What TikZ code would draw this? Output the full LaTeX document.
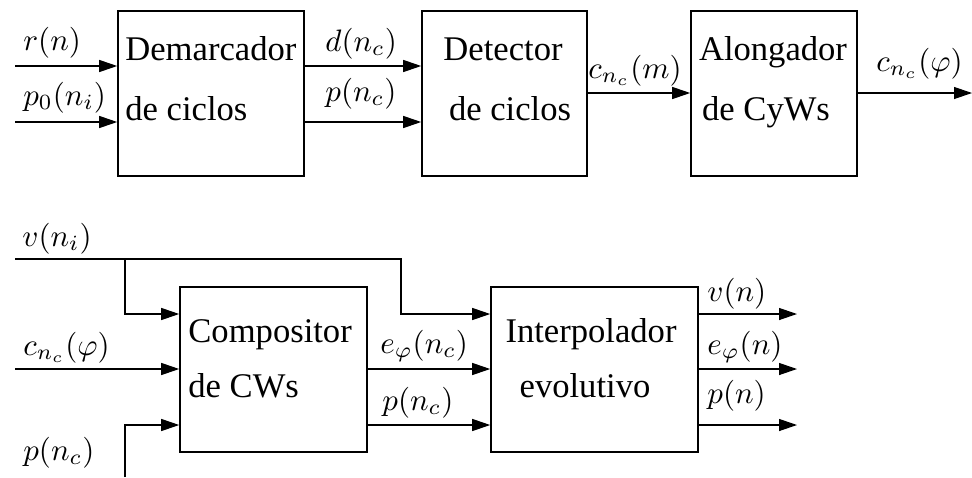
\documentclass[tikz,border=0pt]{standalone}
\usepackage[no-math]{fontspec}
\setmainfont{Liberation Serif}
\usetikzlibrary{arrows.meta,calc}
% signal labels: 10pt math enlarged as a whole
\newcommand{\sig}[1]{\scalebox{1.55}{$#1$}}

\begin{document}
\begin{tikzpicture}[x=0.5pt,y=-0.5pt,
  blk/.style={draw, line width=0.8pt, minimum height=82.5pt, inner sep=0pt},
  btxt/.style={font=\fontsize{17.3}{20}\selectfont, inner sep=0pt, anchor=base west},
  ctxt/.style={font=\fontsize{17.3}{20}\selectfont, inner sep=0pt, anchor=base},
  mlab/.style={inner sep=0pt, anchor=base west},
  wire/.style={line width=0.6pt},
  arr/.style={line width=0.6pt, -{Triangle[length=9pt,width=6pt]}}]

\useasboundingbox (0,0) rectangle (972,477);

% ---------- upper chain ----------
\node[blk, minimum width=93pt]   (dem)  at (211,93.5) {};
\node[blk, minimum width=82.5pt] (det)  at (504.5,93.5) {};
\node[blk, minimum width=83pt]   (alo)  at (774,93.5) {};

\node[btxt] (demA) at (125,60)  {Demarcador};
\node[btxt] (demB) at (125,120) {de ciclos};
\node[ctxt] (detA) at (503,60)  {Detector};
\node[ctxt] (detB) at (510,120) {de ciclos};
\node[ctxt] (aloA) at (773,60)  {Alongador};
\node[ctxt] (aloB) at (766,120) {de CyWs};

\coordinate (a1) at (15,66);
\coordinate (a2) at (15,122);
\coordinate (m1) at (0,93);
\coordinate (outA) at (972,93);

\draw[arr] (a1) -- (a1 -| dem.west);
\draw[arr] (a2) -- (a2 -| dem.west);
\draw[arr] (dem.east |- a1) -- (det.west |- a1);
\draw[arr] (dem.east |- a2) -- (det.west |- a2);
\draw[arr] (det.east |- m1) -- (alo.west |- m1);
\draw[arr] (alo.east |- m1) -- (outA);

\node[mlab] (lr)  at (23,50)   {\sig{r(n)}};
\node[mlab] (lp0) at (23,105)  {\sig{p_0(n_i)}};
\node[mlab] (ld)  at (325,51)  {\sig{d(n_c)}};
\node[mlab] (lp)  at (325,101) {\sig{p(n_c)}};
\node[mlab] (lc)  at (588,78)  {\sig{c_{n_c}(m)}};
\node[mlab] (lcf) at (876,71)  {\sig{c_{n_c}(\varphi)}};

% ---------- lower chain ----------
\node[blk, minimum width=93.5pt]  (comp)   at (273.5,369.5) {};
\node[blk, minimum width=103.5pt] (interp) at (594.5,369.5) {};

\node[btxt] (compA) at (188,342) {Compositor};
\node[btxt] (compB) at (188,397) {de CWs};
\node[ctxt] (intA)  at (591,342) {Interpolador};
\node[ctxt] (intB)  at (585,397) {evolutivo};

\coordinate (vin) at (15,259);
\coordinate (vb1) at (125,259);
\coordinate (vb2) at (401,259);
\coordinate (r1) at (0,314);
\coordinate (r2) at (0,369);
\coordinate (r3) at (0,425);
\coordinate (cin) at (15,369);
\coordinate (pin) at (125,477);
\coordinate (o1) at (797,314);
\coordinate (o2) at (797,369);
\coordinate (o3) at (797,425);

\draw[arr] (vin) -- (vb2) |- (interp.west |- r1);
\draw[arr] (vb1) |- (comp.west |- r1);
\draw[arr] (cin) -- (cin -| comp.west);
\draw[arr] (pin) |- (comp.west |- r3);
\draw[arr] (comp.east |- r2) -- (interp.west |- r2);
\draw[arr] (comp.east |- r3) -- (interp.west |- r3);
\draw[arr] (interp.east |- o1) -- (o1);
\draw[arr] (interp.east |- o2) -- (o2);
\draw[arr] (interp.east |- o3) -- (o3);

\node[mlab] (lv)   at (22,246)  {\sig{v(n_i)}};
\node[mlab] (lcb)  at (23,355)  {\sig{c_{n_c}(\varphi)}};
\node[mlab] (lpb)  at (23,460)  {\sig{p(n_c)}};
\node[mlab] (le)   at (380,353) {\sig{e_\varphi(n_c)}};
\node[mlab] (lpc)  at (382,410) {\sig{p(n_c)}};
\node[mlab] (lvn)  at (707,301) {\sig{v(n)}};
\node[mlab] (len)  at (707,354) {\sig{e_\varphi(n)}};
\node[mlab] (lpn)  at (707,403) {\sig{p(n)}};
\end{tikzpicture}
\end{document}
